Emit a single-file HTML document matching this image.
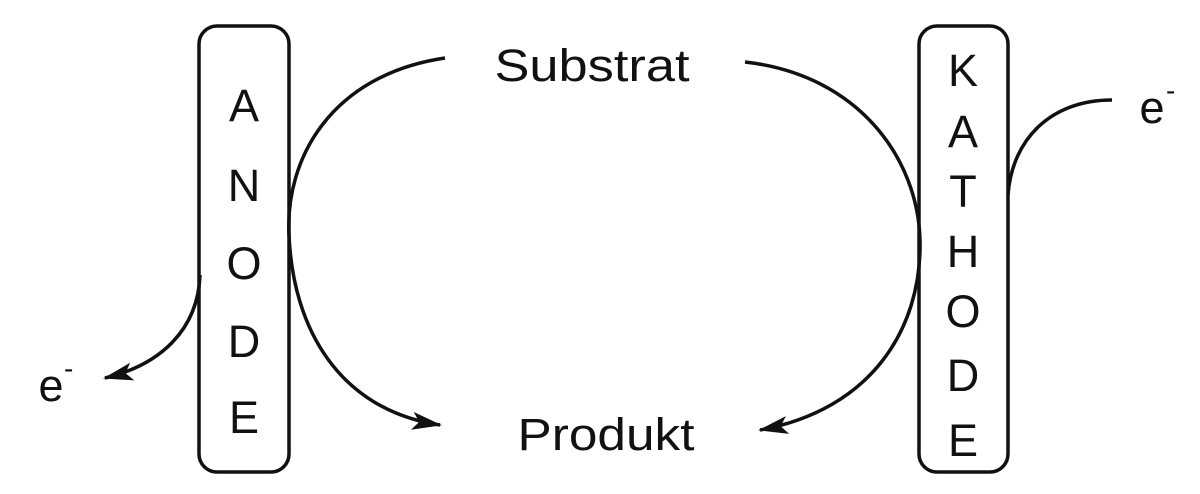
<!DOCTYPE html>
<html><head><meta charset="utf-8"><style>
body{margin:0;background:#fff;width:1200px;height:494px;overflow:hidden}
svg{display:block}
text{font-family:"Liberation Sans",sans-serif;fill:#111}
</style></head><body>
<svg width="1200" height="494" viewBox="0 0 1200 494" xmlns="http://www.w3.org/2000/svg">
<defs><marker id="a" markerWidth="30" markerHeight="18" refX="28" refY="9" orient="auto" markerUnits="userSpaceOnUse">
<path d="M0,0 L30,9 L0,18 L7,9 Z" fill="#111"/></marker></defs>
<g fill="none" stroke="#111" stroke-width="3.5">
<rect x="199" y="26" width="90" height="446" rx="18"/>
<rect x="919" y="26" width="89" height="446" rx="18"/>
<path d="M445,58 C330,75 285,160 289,235 C293,330 340,410 440,425" marker-end="url(#a)"/>
<path d="M745,62 C860,75 918,160 920,240 C922,330 870,410 760,430" marker-end="url(#a)"/>
<path d="M1008,195 C1012,140 1050,100 1112,100"/>
<path d="M200,275 C198,330 160,365 105,378" marker-end="url(#a)"/>
</g>
<g font-size="45" text-anchor="middle">
<text x="592" y="81" textLength="195" lengthAdjust="spacingAndGlyphs">Substrat</text>
<text x="606" y="450" textLength="177" lengthAdjust="spacingAndGlyphs">Produkt</text>
<text x="244" y="121">A</text><text x="244" y="201">N</text><text x="244" y="279">O</text><text x="244" y="357">D</text><text x="244" y="433">E</text>
<text x="963" y="86">K</text><text x="963" y="147">A</text><text x="963" y="207">T</text><text x="963" y="267">H</text><text x="963" y="327">O</text><text x="963" y="391">D</text><text x="963" y="456">E</text>
<text x="1152" y="123">e</text><text x="51" y="401">e</text>
</g>
<g font-size="28"><text x="1166" y="100">-</text><text x="64" y="378">-</text></g>
</svg>
</body></html>
